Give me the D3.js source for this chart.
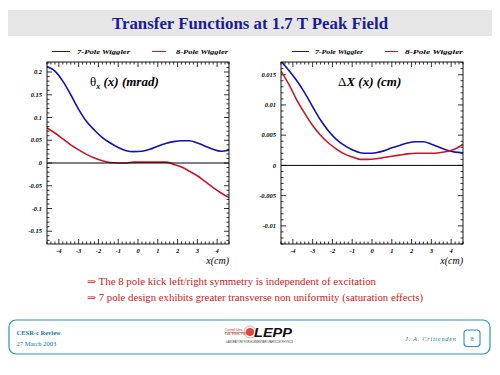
<!DOCTYPE html>
<html>
<head>
<meta charset="utf-8">
<script src="https://cdn.jsdelivr.net/npm/d3@7"></script>
<style>
  body { margin: 0; background: #fff; }
  svg { display: block; }
</style>
</head>
<body>
<svg id="chart" width="500" height="375"></svg>
<script>
// sample positions along x (cm)
var xGrid = [-4.6, -4.2, -3.8, -3.4, -3.0, -2.6, -2.2, -1.8, -1.4, -1.0, -0.6, -0.2,
             0.2, 0.6, 1.0, 1.4, 1.8, 2.2, 2.6, 3.0, 3.4, 3.8, 4.2, 4.6];

// theta_x(x) in mrad
var theta7 = [0.212, 0.202, 0.180, 0.150, 0.118, 0.091, 0.072, 0.056, 0.044, 0.034, 0.027, 0.025,
              0.026, 0.030, 0.037, 0.043, 0.047, 0.049, 0.049, 0.044, 0.037, 0.030, 0.026, 0.028];
var theta8 = [0.077, 0.066, 0.053, 0.040, 0.029, 0.019, 0.011, 0.005, 0.001, 0.000, 0.000, 0.002,
              0.002, 0.002, 0.002, 0.002, -0.003, -0.009, -0.018, -0.028, -0.041, -0.054, -0.066, -0.076];

// delta X(x) in cm
var dx7 = [0.0172, 0.0157, 0.0140, 0.0120, 0.0097, 0.0075, 0.0057, 0.0043, 0.0033, 0.0026, 0.0021, 0.0020,
           0.0021, 0.0024, 0.0029, 0.0033, 0.0037, 0.0039, 0.0039, 0.0035, 0.0030, 0.0025, 0.0022, 0.0021];
var dx8 = [0.0156, 0.0134, 0.0108, 0.0086, 0.0066, 0.0050, 0.0037, 0.0027, 0.0019, 0.0014, 0.0010, 0.0010,
           0.0011, 0.0013, 0.0015, 0.0017, 0.0019, 0.0020, 0.0020, 0.0020, 0.0021, 0.0023, 0.0027, 0.0035];

var seriesNames = ["7-Pole Wiggler", "8-Pole Wiggler"];
var xTicks = [-4, -3, -2, -1, 0, 1, 2, 3, 4];
var thetaTicks = [-0.15, -0.1, -0.05, 0, 0.05, 0.1, 0.15, 0.2];
var dxTicks = [-0.01, -0.005, 0, 0.005, 0.01, 0.015];

var BLUE = "#1212b4", RED = "#cc1428";
var TEAL = "#2a93b5", TEALTXT = "#1b7aa0";
var SERIF = "'Liberation Serif', 'DejaVu Serif', 'Times New Roman', serif";
var SANS = "'Liberation Sans', 'DejaVu Sans', Arial, sans-serif";

var svg = d3.select("#chart");
svg.append("rect").attr("width", 500).attr("height", 375).attr("fill", "#fff");

// title band
svg.append("rect").attr("x", 8).attr("y", 10).attr("width", 484).attr("height", 26).attr("fill", "#e6e6e6");
svg.append("text").attr("x", 250).attr("y", 28.5).attr("text-anchor", "middle")
    .style("font-family", SERIF).attr("font-weight", "bold").attr("font-size", 16)
    .attr("fill", "#1a1a9c").attr("textLength", 276).attr("lengthAdjust", "spacingAndGlyphs")
    .text("Transfer Functions at 1.7 T Peak Field");

function drawPanel(opt){
  var g = svg.append("g");
  var x = d3.scaleLinear().domain([-4.6, 4.6]).range([opt.left, opt.left + 182]);
  var y = d3.scaleLinear().domain(opt.yDomain).range([244, 62]);

  var id = "clip" + opt.left;
  svg.append("clipPath").attr("id", id).append("rect")
      .attr("x", opt.left).attr("y", 62).attr("width", 182).attr("height", 182);

  // minor + major ticks, mirrored on all sides
  var xMinor = d3.range(-4.6, 4.61, 0.2).map(function(v){ return Math.round(v*10)/10; });
  var yMinor = d3.range(Math.ceil(opt.yDomain[0]/opt.minor)*opt.minor, opt.yDomain[1], opt.minor);
  var tk = g.append("g").attr("stroke", "#000").attr("stroke-width", 0.8);
  xMinor.forEach(function(v){
    var major = xTicks.indexOf(v) >= 0, len = major ? 5 : 2.5;
    tk.append("line").attr("x1", x(v)).attr("x2", x(v)).attr("y1", 244).attr("y2", 244 - len);
    tk.append("line").attr("x1", x(v)).attr("x2", x(v)).attr("y1", 62).attr("y2", 62 + len);
  });
  yMinor.forEach(function(v){
    var major = opt.yTicks.some(function(t){ return Math.abs(t - v) < opt.minor/10; });
    var len = major ? 5 : 2.5;
    tk.append("line").attr("x1", opt.left).attr("x2", opt.left + len).attr("y1", y(v)).attr("y2", y(v));
    tk.append("line").attr("x1", opt.left + 182).attr("x2", opt.left + 182 - len).attr("y1", y(v)).attr("y2", y(v));
  });

  // tick labels
  var lab = g.append("g").style("font-family", SERIF).attr("font-style", "italic")
      .attr("font-weight", "bold").attr("font-size", 6.5).attr("fill", "#000");
  xTicks.forEach(function(v){
    lab.append("text").attr("x", x(v)).attr("y", 253).attr("text-anchor", "middle").text(String(v));
  });
  opt.yTicks.forEach(function(v){
    lab.append("text").attr("x", opt.left - 5).attr("y", y(v) + 2.2).attr("text-anchor", "end").text(String(v));
  });

  var line = d3.line()
      .x(function(d){ return x(d[0]); })
      .y(function(d){ return y(d[1]); })
      .curve(d3.curveMonotoneX);
  var curves = g.append("g").attr("clip-path", "url(#" + id + ")");
  [[opt.s7, BLUE], [opt.s8, RED]].forEach(function(s){
    curves.append("path").datum(d3.zip(xGrid, s[0]))
        .attr("d", line).attr("fill", "none").attr("stroke", s[1]).attr("stroke-width", 1.6);
  });
  // zero line drawn over the curves, as in the original
  g.append("line").attr("x1", opt.left).attr("x2", opt.left + 182).attr("y1", y(0)).attr("y2", y(0))
      .attr("stroke", "#000").attr("stroke-width", 1);

  // frame
  g.append("rect").attr("x", opt.left).attr("y", 62).attr("width", 182).attr("height", 182)
      .attr("fill", "none").attr("stroke", "#000").attr("stroke-width", 0.9);

  // legend
  var lg = g.append("g").style("font-family", SERIF).attr("font-style", "italic")
      .attr("font-weight", "bold").attr("font-size", 7);
  opt.legend.forEach(function(L, i){
    var c = i === 0 ? BLUE : RED;
    lg.append("line").attr("x1", L[0]).attr("x2", L[1]).attr("y1", 51.5).attr("y2", 51.5)
        .attr("stroke", c).attr("stroke-width", 1);
    lg.append("text").attr("x", L[2]).attr("y", 54).attr("textLength", L[3])
        .attr("lengthAdjust", "spacingAndGlyphs").text(seriesNames[i]);
  });

  // axis title
  g.append("text").attr("x", opt.left + 182).attr("y", 263.5).attr("text-anchor", "end")
      .style("font-family", SERIF).attr("font-style", "italic").attr("font-size", 10)
      .text("x(cm)");
  return g;
}

var gL = drawPanel({left: 47, yDomain: [-0.178, 0.222], yTicks: thetaTicks, minor: 0.01,
  s7: theta7, s8: theta8, legend: [[52, 70, 77, 53], [152, 166, 176, 52]]});
var gR = drawPanel({left: 281, yDomain: [-0.013, 0.0171], yTicks: dxTicks, minor: 0.001,
  s7: dx7, s8: dx8, legend: [[292, 309, 315, 48], [385, 398, 405, 58]]});

// panel labels
var t1 = gL.append("text").attr("x", 90).attr("y", 86).style("font-family", SERIF)
    .attr("font-size", 13).attr("font-weight", "bold");
t1.append("tspan").attr("font-weight", "normal").text("θ");
t1.append("tspan").attr("font-size", 8).attr("dy", 3).attr("font-style", "italic").text("x");
t1.append("tspan").attr("dy", -3).attr("font-style", "italic").text(" (x)  (mrad)");

var t2 = gR.append("text").attr("x", 338).attr("y", 86).style("font-family", SERIF)
    .attr("font-size", 13).attr("font-weight", "bold");
t2.append("tspan").attr("font-weight", "normal").text("Δ");
t2.append("tspan").attr("font-style", "italic").text("X (x) (cm)");

// bullet remarks
var notes = ["⇒ The 8 pole kick left/right symmetry is independent of excitation",
             "⇒ 7 pole design exhibits greater transverse non uniformity (saturation effects)"];
var noteW = [289, 336];
notes.forEach(function(n, i){
  svg.append("text").attr("x", 87).attr("y", 285 + i * 16).style("font-family", SERIF)
      .attr("font-size", 10).attr("fill", "#d01818").attr("textLength", noteW[i])
      .attr("lengthAdjust", "spacingAndGlyphs").text(n);
});

// footer
var ft = svg.append("g");
ft.append("rect").attr("x", 9).attr("y", 320).attr("width", 481).attr("height", 34).attr("rx", 7)
    .attr("fill", "none").attr("stroke", TEAL).attr("stroke-width", 1.2);
ft.append("text").attr("x", 16.5).attr("y", 334.5).style("font-family", SERIF)
    .attr("font-weight", "bold").attr("font-size", 6.5).attr("fill", TEALTXT).text("CESR-c Review");
ft.append("text").attr("x", 16.5).attr("y", 346).style("font-family", SERIF)
    .attr("font-size", 6.5).attr("fill", TEALTXT).text("27 March 2003");
ft.append("text").attr("x", 405).attr("y", 341).style("font-family", SERIF)
    .attr("font-style", "italic").attr("font-size", 6.5).attr("fill", TEALTXT)
    .attr("textLength", 51).text("J. A. Crittenden");
ft.append("rect").attr("x", 464).attr("y", 330).attr("width", 16).attr("height", 16.5).attr("rx", 3)
    .attr("fill", "none").attr("stroke", TEAL).attr("stroke-width", 1.1);
ft.append("text").attr("x", 472).attr("y", 341).attr("text-anchor", "middle").style("font-family", SERIF)
    .attr("font-size", 6.5).attr("fill", TEALTXT).text("8");

// LEPP logo
var lo = svg.append("g");
lo.append("circle").attr("cx", 250).attr("cy", 332).attr("r", 4).attr("fill", "#e0453a");
lo.append("circle").attr("cx", 250).attr("cy", 332).attr("r", 6).attr("fill", "none")
    .attr("stroke", "#f2a0a0").attr("stroke-width", 1);
lo.append("text").attr("x", 225).attr("y", 331).style("font-family", SANS)
    .attr("font-size", 3.2).attr("fill", "#c03030").text("Cornell Univ.");
lo.append("text").attr("x", 225).attr("y", 335).style("font-family", SANS)
    .attr("font-size", 3.2).attr("fill", "#c03030").text("Lab. Elem. Part.");
lo.append("line").attr("x1", 225).attr("x2", 246).attr("y1", 332.5).attr("y2", 332.5)
    .attr("stroke", "#d04040").attr("stroke-width", 0.6);
lo.append("text").attr("x", 254).attr("y", 337).style("font-family", SANS)
    .attr("font-style", "italic").attr("font-weight", "bold").attr("font-size", 13)
    .attr("fill", "#111").attr("textLength", 38).attr("lengthAdjust", "spacingAndGlyphs").text("LEPP");
lo.append("text").attr("x", 226).attr("y", 342.5).style("font-family", SANS)
    .attr("font-size", 2.6).attr("fill", "#333").attr("textLength", 67)
    .attr("lengthAdjust", "spacingAndGlyphs").text("LABORATORY FOR ELEMENTARY-PARTICLE PHYSICS");
</script>
</body>
</html>
